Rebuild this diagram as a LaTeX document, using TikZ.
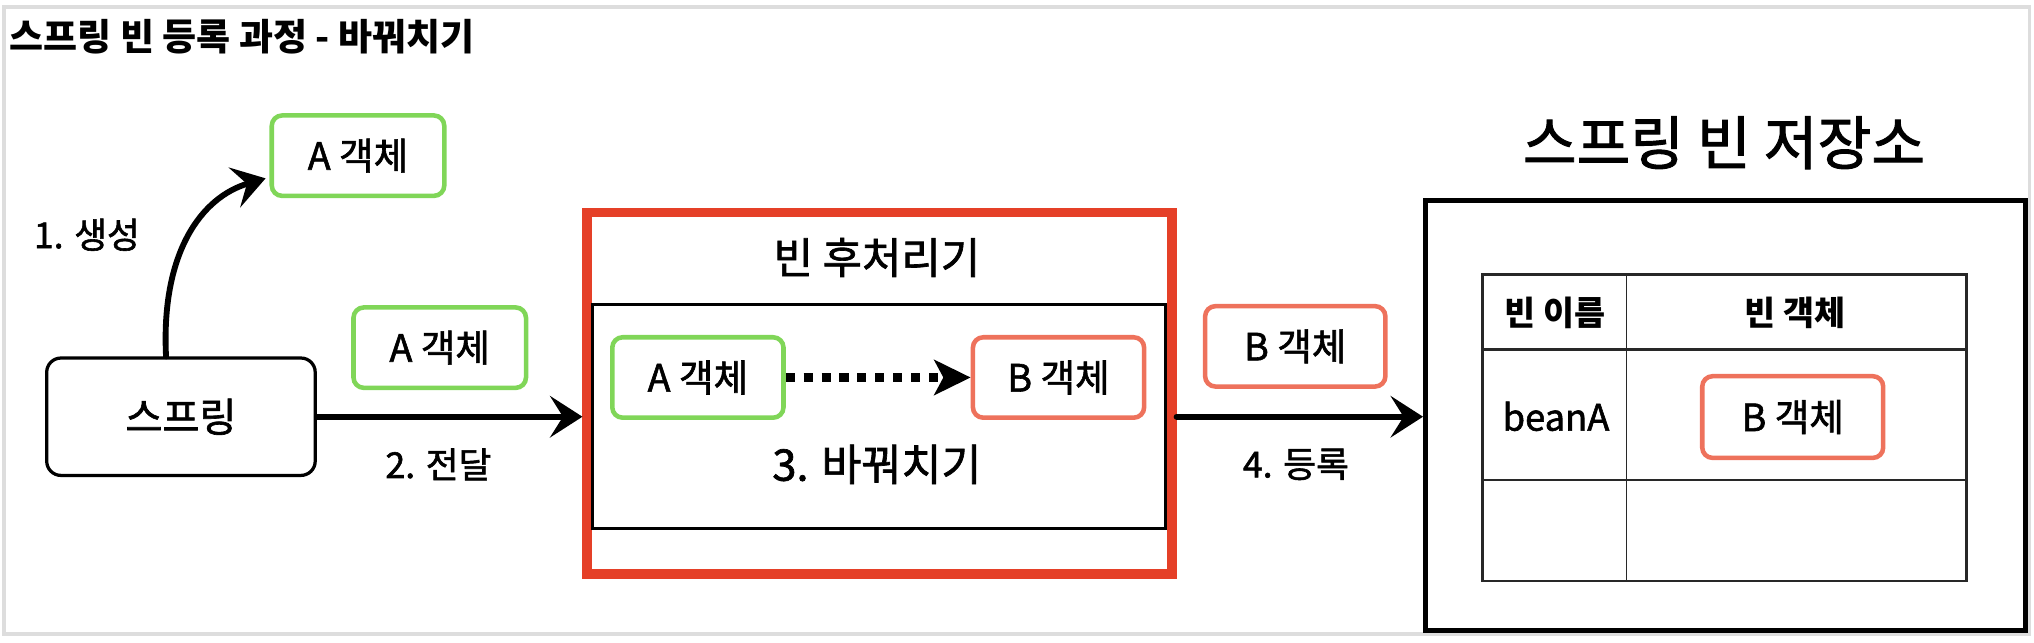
\documentclass[tikz,border=0pt]{standalone}
\usepackage{fontspec}
\setmainfont{Noto Sans CJK KR}
\newfontfamily\kf{Noto Sans CJK KR}[FakeBold=1.6]
\usetikzlibrary{arrows.meta,calc}
\definecolor{gframe}{RGB}{221,221,221}
\definecolor{sgreen}{RGB}{128,214,88}
\definecolor{ssalmon}{RGB}{238,114,92}
\definecolor{sred}{RGB}{229,64,40}
\definecolor{tline}{RGB}{40,40,40}
\newcommand{\kfs}[1]{\kf\fontsize{#1bp}{#1bp}\selectfont}
\newcommand{\kbs}[1]{\normalfont\bfseries\fontsize{#1bp}{#1bp}\selectfont}
\begin{document}
\begin{tikzpicture}[x=1bp,y=-1bp,
  objbox/.style={draw=#1, line width=3.5bp, rounded corners=8bp, minimum width=133bp, minimum height=62bp, inner sep=0pt, fill=white, font=\kfs{29}},
  steplabel/.style={font=\kfs{27.5}, inner sep=0pt},
  plain/.style={inner sep=0pt},
  sketch/.style={line width=4.5bp, line cap=round, -{Stealth[length=25bp,width=32bp,inset=10bp]}},
]
\useasboundingbox (0,0) rectangle (1568,495);
\draw[gframe, line width=3bp] (3,5.5) rectangle (1564.5,488.5);

% title
\node[plain, anchor=west, font=\kbs{28.5}] (title) at (7.4,28) {스프링 빈 등록 과정 - 바꿔치기};

% left part
\node[objbox=sgreen] (topA) at (276,120) {A 객체};
\node[draw, line width=2.5bp, rounded corners=11bp, minimum width=207bp, minimum height=90.5bp, inner sep=0pt, font=\kfs{31}] (spring) at (139.5,321.25) {스프링};
\node[steplabel] (l1) at (67,181) {1. 생성};
\coordinate (cs) at ($(spring.north)+(-11.5,0)$);
\coordinate (ce) at ($(topA.west)+(-3,17.5)$);
\draw[sketch] (cs) .. controls (124,195) and (155,152) .. (ce);

\node[objbox=sgreen] (midA) at (339,268) {A 객체};
\node[steplabel] (l2) at (338,358) {2. 전달};

% bean post processor
\node[draw=sred, line width=7bp, minimum width=451bp, minimum height=278.5bp, inner sep=0pt] (pp) at (678,303.25) {};
\node[plain, font=\kfs{33}] (pptitle) at (676,198.5) {빈 후처리기};
\node[draw, line width=2.5bp, minimum width=441.5bp, minimum height=173bp, inner sep=0pt] (inner) at (677.75,321) {};
\node[objbox=sgreen, minimum width=132bp] (inA) at (538,291) {A 객체};
\node[objbox=ssalmon, minimum width=132bp] (inB) at (816,291) {B 객체};
\draw[line width=7.5bp, dash pattern=on 7bp off 6.8bp, -{Stealth[length=28bp,width=27bp,inset=7bp]}] (inA.east) -- (inB.west);
\node[plain, font=\kfs{33.5}] (swap) at (676,358) {3. 바꿔치기};

\draw[sketch] (spring.east) -- (spring.east -| pp.west);

% registration
\node[objbox=ssalmon, minimum width=139bp] (midB) at (998.5,267) {B 객체};
\node[steplabel] (l4) at (999,358) {4. 등록};

% storage
\node[plain, font=\kfs{45}] (storetitle) at (1329,110) {스프링 빈 저장소};
\node[draw, line width=4bp, minimum width=462.4bp, minimum height=331.6bp, inner sep=0pt] (store) at (1330.2,320.2) {};
\draw[sketch] (spring.east -| pp.east) -- (spring.east -| store.west);

% table
\draw[tline, line width=2bp] (1143,211.7) rectangle (1515.8,448);
\draw[tline, line width=2.2bp] (1143,269.5) -- (1515.8,269.5);
\draw[tline, line width=1.2bp] (1143,370.2) -- (1515.8,370.2);
\draw[tline, line width=1.2bp] (1253.7,211.7) -- (1253.7,448);
\node[plain, font=\kbs{26}] (h1) at (1198.5,241) {빈 이름};
\node[plain, font=\kbs{26}] (h2) at (1384,241) {빈 객체};
\node[plain, font=\kfs{28}] (bn) at (1199.5,321) {beanA};
\node[objbox=ssalmon, minimum width=139.5bp, minimum height=63bp] (tB) at (1382,321.5) {B 객체};
\end{tikzpicture}
\end{document}
